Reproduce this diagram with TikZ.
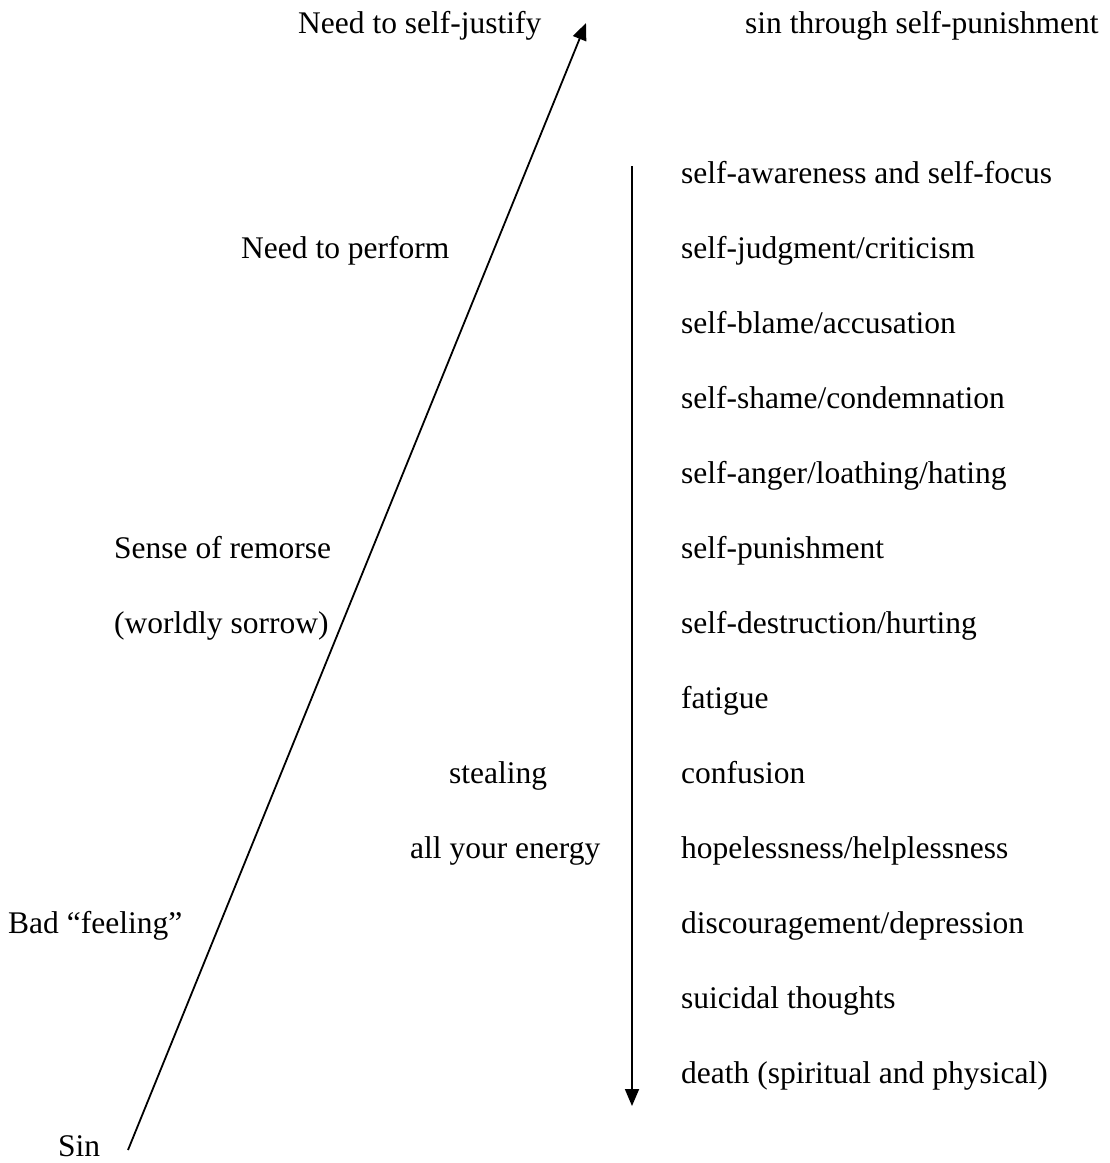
\documentclass[tikz,border=0pt]{standalone}
\usepackage{fontspec}
\setmainfont{Liberation Serif}
\usetikzlibrary{arrows.meta}
\begin{document}
\begin{tikzpicture}[x=1pt,y=-1pt,
  lbl/.style={anchor=base west,inner sep=0pt,font=\fontsize{31.5}{38}\selectfont},
  conn/.style={line width=1.8pt,-{Triangle[length=17pt,width=14pt]}}]
\useasboundingbox (0,0) rectangle (1110,1163);
% diagonal arrow
\coordinate (d0) at (128,1150);
\coordinate (d1) at (586,23);
\draw[conn] (d0) -- (d1);
% vertical arrow
\coordinate (v0) at (632,166);
\coordinate (v1) at (632,1106);
\draw[conn] (v0) -- (v1);
% top labels
\node[lbl] (justify) at (298,33) {Need to self-justify};
\node[lbl] (sinpun) at (745,33) {sin through self-punishment};
% left labels
\node[lbl] (perform) at (241,258) {Need to perform};
\node[lbl] (remorse) at (114,558) {Sense of remorse};
\node[lbl] (worldly) at (114,633) {(worldly sorrow)};
\node[lbl] (stealing) at (449,783) {stealing};
\node[lbl] (energy) at (410,858) {all your energy};
\node[lbl] (bad) at (8,933) {Bad “feeling”};
\node[lbl] (sin) at (58,1156) {Sin};
% right column
\node[lbl] (r1) at (681,183) {self-awareness and self-focus};
\node[lbl] (r2) at (681,258) {self-judgment/criticism};
\node[lbl] (r3) at (681,333) {self-blame/accusation};
\node[lbl] (r4) at (681,408) {self-shame/condemnation};
\node[lbl] (r5) at (681,483) {self-anger/loathing/hating};
\node[lbl] (r6) at (681,558) {self-punishment};
\node[lbl] (r7) at (681,633) {self-destruction/hurting};
\node[lbl] (r8) at (681,708) {fatigue};
\node[lbl] (r9) at (681,783) {confusion};
\node[lbl] (r10) at (681,858) {hopelessness/helplessness};
\node[lbl] (r11) at (681,933) {discouragement/depression};
\node[lbl] (r12) at (681,1008) {suicidal thoughts};
\node[lbl] (r13) at (681,1083) {death (spiritual and physical)};
\end{tikzpicture}
\end{document}
